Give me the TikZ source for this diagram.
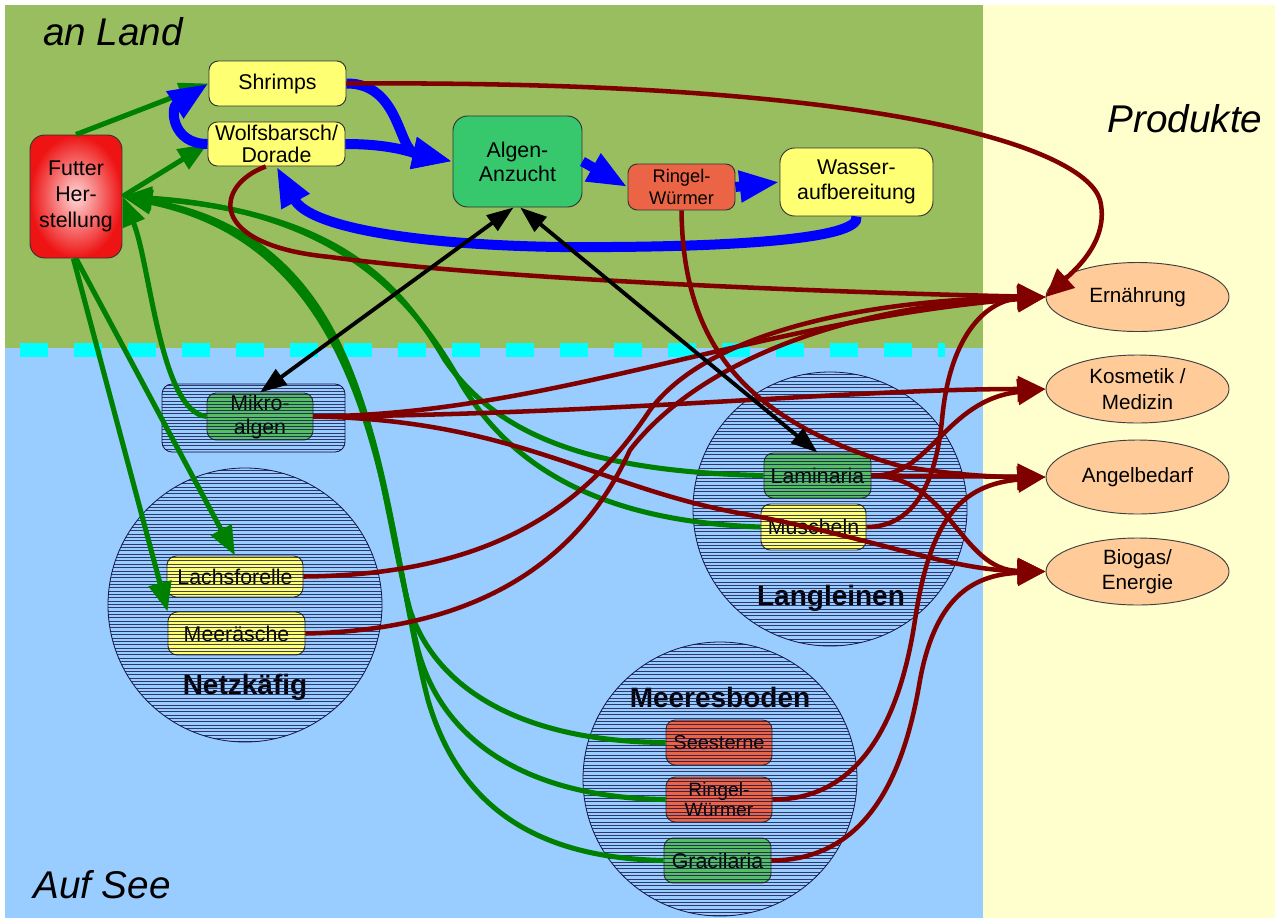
\documentclass[tikz,border=0pt]{standalone}
\usepackage{fontspec}
\setmainfont{Liberation Sans}
\usetikzlibrary{arrows.meta,shapes.geometric,calc}
\definecolor{landgreen}{RGB}{153,190,96}
\definecolor{seablue}{RGB}{153,204,255}
\definecolor{cream}{RGB}{255,255,206}
\definecolor{boxyellow}{RGB}{255,255,115}
\definecolor{algengreen}{RGB}{55,200,110}
\definecolor{mgreen}{RGB}{85,190,100}
\definecolor{worm}{RGB}{236,100,70}
\definecolor{peach}{RGB}{255,204,153}
\definecolor{dred}{RGB}{128,0,0}
\definecolor{dgreen}{RGB}{0,128,0}
\definecolor{bblue}{RGB}{0,0,255}
\definecolor{navy}{RGB}{20,20,70}
\definecolor{dashcyan}{RGB}{0,255,255}
\tikzset{
  box/.style={draw=black!80, line width=0.7pt, rounded corners=7pt, align=center, inner sep=0pt,
    font=\fontsize{16pt}{18pt}\selectfont},
  prod/.style={ellipse, draw=black!75, line width=0.7pt, fill=peach, align=center, inner sep=0pt,
    minimum width=137.25pt, font=\fontsize{15.5pt}{19pt}\selectfont},
  zone/.style={circle, draw=navy, line width=0.6pt, fill=seablue, inner sep=0pt, minimum size=205.5pt},
  zonelabel/.style={font=\bfseries\fontsize{21pt}{22pt}\selectfont},
  hatch/.style={draw=navy, line width=0.5pt, opacity=0.8},
  region/.style={font=\itshape\fontsize{29pt}{30pt}\selectfont, anchor=base},
  gconn/.style={draw=dgreen, line width=3.8pt, -{Triangle[length=22pt,width=17pt]}},
  rconn/.style={draw=dred, line width=3.4pt, -{Triangle[length=21pt,width=19pt]}},
  bconn/.style={draw=bblue, line width=7.5pt, -{Triangle[length=30pt,width=22pt]}},
  kconn/.style={draw=black, line width=2.9pt, {Triangle[length=20pt,width=14pt]}-{Triangle[length=20pt,width=14pt]}},
}
\begin{document}
\begin{tikzpicture}[x=0.75pt,y=-0.75pt]
\useasboundingbox (0,0) rectangle (1279,918);
% backgrounds
\fill[white] (0,0) rectangle (1279,918);
\fill[landgreen] (5,5) rectangle (983,348);
\fill[seablue] (5,348) rectangle (983,918);
\fill[cream] (983,5) rectangle (1275,918);
\draw[dashcyan, line width=10.5pt, dash pattern=on 21pt off 19.5pt] (20,350) -- (945,350);

% region labels
\node[region] (anland) at (113,45) {an Land};
\node[region] (produkte) at (1185,132) {Produkte};
\node[region] (aufsee) at (102,898) {Auf See};

% zones
\node[zone] (netz) at (245,605) {};
\node[zone] (lang) at (830,509) {};
\node[zone] (boden) at (720,779) {};
\node[draw=navy, line width=0.6pt, fill=seablue, rounded corners=7.5pt, inner sep=0pt,
      minimum width=137.25pt, minimum height=51pt] (mzone) at (253.5,418) {};

% nodes inside zones
\node[box, fill=mgreen, minimum width=79.5pt, minimum height=35.25pt] (mikro) at (260,416.5) {Mikro-\\algen};
\node[box, fill=boxyellow, minimum width=102pt, minimum height=30.75pt] (lachs) at (235,576.5) {Lachsforelle};
\node[box, fill=boxyellow, minimum width=102.75pt, minimum height=32.25pt] (meer) at (236.5,633.5) {Meeräsche};
\node[zonelabel] (netzlabel) at (245,687) {Netzkäfig};
\node[box, fill=mgreen, minimum width=80.25pt, minimum height=33.75pt] (lamin) at (817.5,475.5) {Laminaria};
\node[box, fill=boxyellow, minimum width=78.75pt, minimum height=34.5pt] (musch) at (813.5,527) {Muscheln};
\node[zonelabel] (langlabel) at (831,598) {Langleinen};
\node[zonelabel] (bodenlabel) at (720,697) {Meeresboden};
\node[box, fill=worm, minimum width=79.5pt, minimum height=33.75pt, font=\fontsize{15pt}{17pt}\selectfont] (see) at (719,742.5) {Seesterne};
\node[box, fill=worm, minimum width=79.5pt, minimum height=33.75pt, font=\fontsize{14.5pt}{15.5pt}\selectfont] (ringelb) at (719,799.5) {Ringel-\\Würmer};
\node[box, fill=mgreen, minimum width=80.25pt, minimum height=33.75pt] (graci) at (717.5,860.5) {Gracilaria};

% hatching
\begin{scope}
  \clip (245,605) circle[radius=102.75pt];
  \foreach \k in {0,...,83} \draw[hatch] (100,{467+\k*3.35}) -- (390,{467+\k*3.35});
\end{scope}
\begin{scope}
  \clip (830,509) circle[radius=102.75pt];
  \foreach \k in {0,...,83} \draw[hatch] (690,{371+\k*3.35}) -- (970,{371+\k*3.35});
\end{scope}
\begin{scope}
  \clip (720,779) circle[radius=102.75pt];
  \foreach \k in {0,...,83} \draw[hatch] (580,{641+\k*3.35}) -- (860,{641+\k*3.35});
\end{scope}
\begin{scope}
  \clip[rounded corners=7.5pt] (162,384) rectangle (345,452);
  \foreach \k in {0,...,21} \draw[hatch] (160,{385+\k*3.2}) -- (350,{385+\k*3.2});
\end{scope}

% land nodes
\node[box, shading=radial, inner color={rgb,255:red,255;green,215;blue,215}, outer color={rgb,255:red,238;green,20;blue,20},
      rounded corners=11pt, minimum width=69pt, minimum height=92.25pt, font=\fontsize{16pt}{19.5pt}\selectfont] (futter) at (76,196.5) {Futter\\Her-\\stellung};
\node[box, fill=boxyellow, minimum width=102.75pt, minimum height=33.75pt] (shrimps) at (277.5,83.5) {Shrimps};
\node[box, fill=boxyellow, minimum width=102.75pt, minimum height=33pt, font=\fontsize{16pt}{17pt}\selectfont] (wolf) at (276.5,144) {Wolfsbarsch/\\Dorade};
\node[box, fill=algengreen, rounded corners=11pt, minimum width=96.75pt, minimum height=68.25pt] (algen) at (517.5,161.5) {Algen-\\Anzucht};
\node[box, fill=worm, minimum width=80.25pt, minimum height=34.5pt, font=\fontsize{13.7pt}{16pt}\selectfont] (ringela) at (681.5,187) {Ringel-\\Würmer};
\node[box, fill=boxyellow, rounded corners=11pt, minimum width=114.75pt, minimum height=51pt, font=\fontsize{16pt}{19pt}\selectfont] (wasser) at (856.5,182) {Wasser-\\aufbereitung};

% products
\node[prod, minimum height=51.75pt] (ern) at (1137.5,297) {Ernährung};
\node[prod, minimum height=51pt] (kos) at (1137.5,389) {Kosmetik /\\Medizin};
\node[prod, minimum height=55.5pt] (angel) at (1137.5,477) {Angelbedarf};
\node[prod, minimum height=50.25pt] (bio) at (1137.5,571.5) {Biogas/\\Energie};

% green connectors (feed)
\draw[gconn] (futter.north) -- (shrimps.west);
\draw[gconn] (futter.east) -- (wolf.west);
\draw[gconn] (futter.south) -- (lachs.north);
\draw[gconn] ([xshift=-2pt]futter.south) -- (meer.north west);
\draw[gconn] (mikro.west) .. controls (160,412) and (150,262) .. (futter.east);
\draw[gconn] (lamin.west) .. controls (600,472) and (500,440) .. (445,360) .. controls (395,275) and (330,212) .. (futter.east);
\draw[gconn] (musch.west) .. controls (620,522) and (520,480) .. (462,385) .. controls (412,295) and (335,210) .. (futter.east);
\draw[gconn] (see.west) .. controls (540,742) and (440,700) .. (410,610) .. controls (372,470) and (372,240) .. (futter.east);
\draw[gconn] (ringelb.west) .. controls (540,798) and (445,750) .. (418,650) .. controls (378,490) and (377,245) .. (futter.east);
\draw[gconn] (graci.west) .. controls (540,858) and (460,810) .. (428,700) .. controls (382,520) and (382,250) .. (futter.east);

% blue connectors (water cycle)
\draw[bconn] (shrimps.east) .. controls (400,83) and (398,150) .. (algen.west);
\draw[bconn] (wolf.east) .. controls (390,144) and (410,152) .. (algen.west);
\draw[bconn] (wolf.west) .. controls (172,144) and (170,108) .. (shrimps.west);
\draw[bconn] (algen.east) -- (ringela.west);
\draw[bconn] (ringela.east) -- (wasser.west);
\draw[bconn] (wasser.south) .. controls (862,240) and (720,248) .. (560,247) .. controls (420,245) and (310,228) .. (wolf.south);

% red connectors (products)
\draw[rconn] (shrimps.east) .. controls (900,80) and (1085,150) .. (1100,200) .. controls (1110,240) and (1075,270) .. (ern.west);
\draw[rconn] ([xshift=-8pt]wolf.south) .. controls (215,185) and (205,245) .. (330,257) .. controls (500,280) and (850,293) .. (ern.west);
\draw[rconn] (ringela.south) .. controls (683,340) and (740,420) .. (900,466) .. controls (960,476) and (1000,477) .. (angel.west);
\draw[rconn] (mikro.east) .. controls (550,415) and (760,320) .. (ern.west);
\draw[rconn] (mikro.east) .. controls (600,415) and (850,389) .. (kos.west);
\draw[rconn] (mikro.east) .. controls (520,420) and (600,490) .. (750,515) .. controls (880,540) and (950,570) .. (bio.west);
\draw[rconn] (lachs.east) .. controls (500,575) and (590,500) .. (650,410) .. controls (710,330) and (870,300) .. (ern.west);
\draw[rconn] (meer.east) .. controls (480,630) and (580,560) .. (630,450) .. controls (700,360) and (850,305) .. (ern.west);
\draw[rconn] (lamin.east) -- (angel.west);
\draw[rconn] (lamin.east) .. controls (930,478) and (945,400) .. (kos.west);
\draw[rconn] (lamin.east) .. controls (950,476) and (960,570) .. (bio.west);
\draw[rconn] (musch.east) .. controls (910,527) and (935,490) .. (942,420) .. controls (950,330) and (990,300) .. (ern.west);
\draw[rconn] (ringelb.east) .. controls (860,800) and (900,720) .. (915,620) .. controls (930,520) and (960,485) .. (angel.west);
\draw[rconn] (graci.east) .. controls (870,860) and (905,770) .. (920,680) .. controls (935,600) and (970,575) .. (bio.west);

% black connectors (algae exchange)
\draw[kconn] ([xshift=-3pt]algen.south) -- (mikro.north);
\draw[kconn] ([xshift=2pt]algen.south) -- (lamin.north);
\end{tikzpicture}
\end{document}
